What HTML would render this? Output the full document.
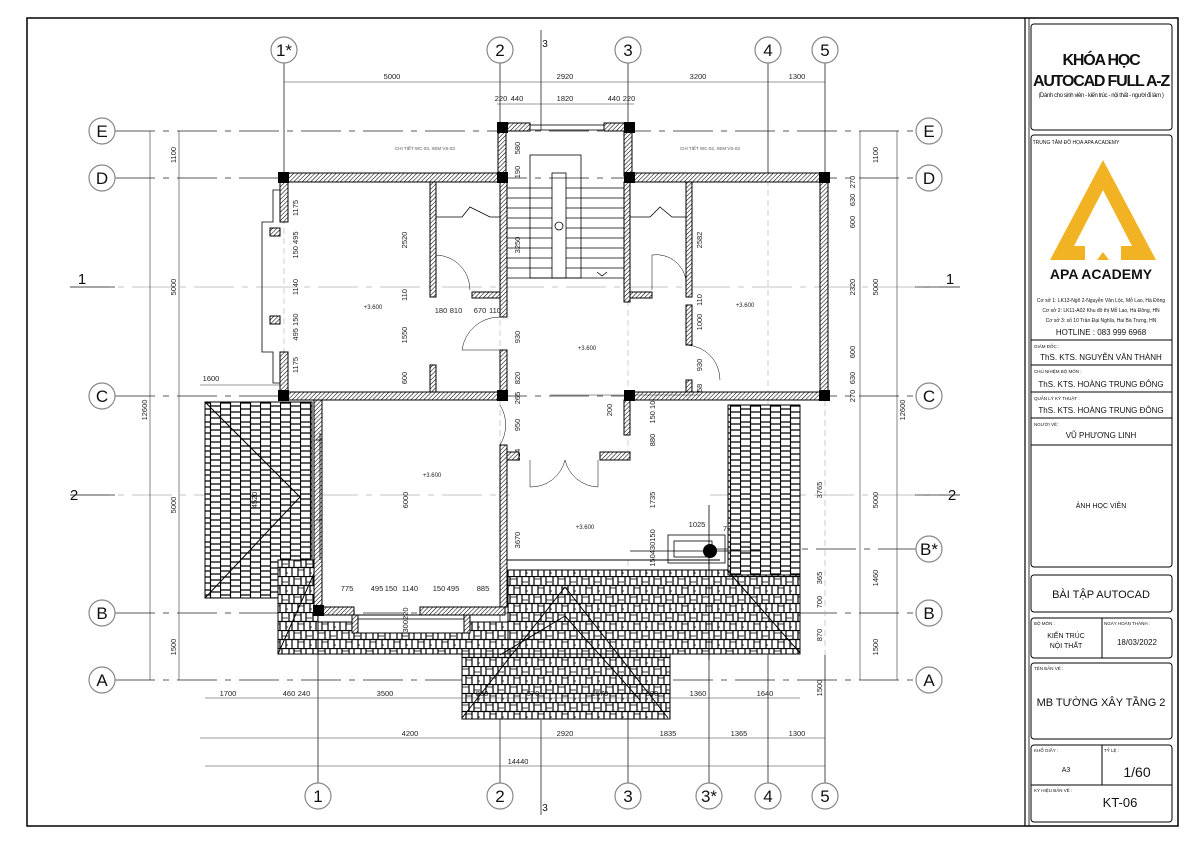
<!DOCTYPE html>
<html><head><meta charset="utf-8"><style>
html,body{margin:0;padding:0;background:#fff;}
svg{display:block;font-family:"Liberation Sans",sans-serif;}
</style></head><body>
<svg width="1191" height="842" viewBox="0 0 1191 842" xmlns="http://www.w3.org/2000/svg">
<defs>
<pattern id="h" width="3" height="3" patternUnits="userSpaceOnUse" patternTransform="rotate(45)">
<rect width="3" height="3" fill="#fff"/><line x1="0" y1="0" x2="0" y2="3" stroke="#000" stroke-width="1.1"/></pattern>
<pattern id="t" width="24" height="18" patternUnits="userSpaceOnUse">
<rect width="24" height="18" fill="#fff"/>
<path d="M0 0.5H24M0 9.5H24M1 0V9M6 0V9M13 0V9M18 0V9M4 9V18M10 9V18M16 9V18M22 9V18" stroke="#000" stroke-width="1.2" fill="none"/>
<path d="M6 3H13M18 6H24M10 12H16M22 15H24" stroke="#000" stroke-width="0.8"/>
</pattern>
<pattern id="tv" width="20" height="24" patternUnits="userSpaceOnUse">
<rect width="20" height="24" fill="#fff"/>
<path d="M0.5 0V24M10.5 0V24M0 1H10M0 7H10M0 14H10M0 19H10M10 4H20M10 10H20M10 16H20M10 22H20" stroke="#000" stroke-width="1.2" fill="none"/>
</pattern>
</defs>

<rect x="27" y="18" width="1151" height="808" fill="none" stroke="#000" stroke-width="1.5"/>
<line x1="1025" y1="18" x2="1025" y2="826" stroke="#000" stroke-width="1.2"/>
<line x1="1029" y1="18" x2="1029" y2="826" stroke="#000" stroke-width="0.8"/>

<g stroke="#222" stroke-width="0.8" fill="none">
<line x1="284" y1="63" x2="284" y2="178"/>
<line x1="500" y1="63" x2="500" y2="125"/>
<line x1="628" y1="63" x2="628" y2="125"/>
<line x1="768" y1="63" x2="768" y2="178"/>
<line x1="825" y1="63" x2="825" y2="178"/>
<line x1="318" y1="615" x2="318" y2="783"/>
<line x1="500" y1="615" x2="500" y2="783"/>
<line x1="628" y1="655" x2="628" y2="783"/>
<line x1="709" y1="530" x2="709" y2="783"/>
<line x1="768" y1="655" x2="768" y2="783"/>
<line x1="825" y1="655" x2="825" y2="783"/>
<line x1="541" y1="30" x2="541" y2="130"/>
<line x1="541" y1="720" x2="541" y2="815"/>
<g stroke-dasharray="40 8 6 8">
<line x1="115" y1="131" x2="916" y2="131"/>
<line x1="115" y1="178" x2="916" y2="178"/>
<line x1="115" y1="396" x2="916" y2="396"/>
<line x1="115" y1="613" x2="916" y2="613"/>
<line x1="115" y1="680" x2="916" y2="680"/>
<line x1="70" y1="287" x2="960" y2="287" stroke="#888" stroke-width="0.5"/>
<line x1="70" y1="495" x2="960" y2="495" stroke="#888" stroke-width="0.5"/>
<line x1="630" y1="549" x2="916" y2="549"/>
<line x1="70" y1="287" x2="115" y2="287" stroke-dasharray="none"/>
<line x1="915" y1="287" x2="960" y2="287" stroke-dasharray="none"/>
<line x1="70" y1="495" x2="115" y2="495" stroke-dasharray="none"/>
<line x1="915" y1="495" x2="960" y2="495" stroke-dasharray="none"/>
</g>
<g stroke="#999" stroke-width="0.5" stroke-dasharray="6 4">
<line x1="284" y1="178" x2="284" y2="400"/><line x1="500" y1="180" x2="500" y2="615"/>
<line x1="628" y1="180" x2="628" y2="655"/><line x1="768" y1="180" x2="768" y2="655"/>
<line x1="825" y1="180" x2="825" y2="655"/><line x1="318" y1="400" x2="318" y2="615"/>
</g>
</g>

<!-- roofs (tiles) -->
<g stroke="#000" stroke-width="1">
<rect x="205" y="402" width="107" height="196" fill="url(#tv)"/>
<rect x="278" y="560" width="40" height="94" fill="url(#t)"/>
<rect x="318" y="622" width="200" height="32" fill="url(#t)"/>
<rect x="508" y="570" width="292" height="84" fill="url(#t)"/>
<rect x="728" y="405" width="72" height="170" fill="url(#tv)"/>
<rect x="462" y="654" width="208" height="65" fill="url(#t)"/>
<line x1="205" y1="402" x2="300" y2="497"/><line x1="300" y1="497" x2="205" y2="598"/>
<line x1="320" y1="560" x2="278" y2="654"/>
<line x1="462" y1="718" x2="565" y2="587"/><line x1="565" y1="587" x2="668" y2="718"/>
<line x1="500" y1="655" x2="565" y2="616"/><line x1="565" y1="616" x2="640" y2="700"/>
<line x1="727" y1="570" x2="800" y2="653"/>
<rect x="352" y="615" width="118" height="18" fill="#fff"/>
<rect x="510" y="460" width="200" height="100" fill="#fff" stroke="none"/>
<line x1="507" y1="560" x2="720" y2="560"/>
</g>

<g fill="#fff" stroke="#888" stroke-width="1.2">
<circle cx="284" cy="50" r="13"/><circle cx="500" cy="50" r="13"/><circle cx="628" cy="50" r="13"/><circle cx="768" cy="50" r="13"/><circle cx="825" cy="50" r="13"/>
<circle cx="318" cy="796" r="13"/><circle cx="500" cy="796" r="13"/><circle cx="628" cy="796" r="13"/><circle cx="709" cy="796" r="13"/><circle cx="768" cy="796" r="13"/><circle cx="825" cy="796" r="13"/>
<circle cx="102" cy="131" r="13"/><circle cx="102" cy="178" r="13"/><circle cx="102" cy="396" r="13"/><circle cx="102" cy="613" r="13"/><circle cx="102" cy="680" r="13"/>
<circle cx="929" cy="131" r="13"/><circle cx="929" cy="178" r="13"/><circle cx="929" cy="396" r="13"/><circle cx="929" cy="549" r="13"/><circle cx="929" cy="613" r="13"/><circle cx="929" cy="680" r="13"/>
</g>
<g font-size="17" text-anchor="middle" fill="#111">
<text x="284" y="56">1*</text><text x="500" y="56">2</text><text x="628" y="56">3</text><text x="768" y="56">4</text><text x="825" y="56">5</text>
<text x="318" y="802">1</text><text x="500" y="802">2</text><text x="628" y="802">3</text><text x="709" y="802">3*</text><text x="768" y="802">4</text><text x="825" y="802">5</text>
<text x="102" y="137">E</text><text x="102" y="184">D</text><text x="102" y="402">C</text><text x="102" y="619">B</text><text x="102" y="686">A</text>
<text x="929" y="137">E</text><text x="929" y="184">D</text><text x="929" y="402">C</text><text x="929" y="555">B*</text><text x="929" y="619">B</text><text x="929" y="686">A</text>
<text x="82" y="284" font-size="15">1</text><text x="950" y="284" font-size="15">1</text>
<text x="74" y="500" font-size="15">2</text><text x="952" y="500" font-size="15">2</text>
<text x="545" y="47" font-size="10">3</text><text x="545" y="811" font-size="10">3</text>
</g>

<g stroke="#333" stroke-width="0.6" fill="none">
<line x1="284" y1="82" x2="825" y2="82"/>
<line x1="497" y1="104" x2="634" y2="104"/>
<line x1="205" y1="698" x2="800" y2="698"/>
<line x1="200" y1="738" x2="825" y2="738"/>
<line x1="205" y1="766" x2="825" y2="766"/>
<line x1="150" y1="131" x2="150" y2="680"/>
<line x1="179" y1="131" x2="179" y2="680"/>
<line x1="860" y1="131" x2="860" y2="680"/>
<line x1="897" y1="131" x2="897" y2="680"/>
<line x1="200" y1="385" x2="280" y2="385"/>
</g>
<g font-size="7.5" fill="#222" text-anchor="middle">
<text x="392" y="79">5000</text><text x="565" y="79">2920</text><text x="698" y="79">3200</text><text x="797" y="79">1300</text>
<text x="501" y="101">220</text><text x="517" y="101">440</text><text x="565" y="101">1820</text><text x="614" y="101">440</text><text x="629" y="101">220</text>
<text x="228" y="696">1700</text><text x="289" y="696">460</text><text x="304" y="696">240</text><text x="385" y="696">3500</text><text x="482" y="696">800</text><text x="533" y="696">570</text><text x="600" y="696">1570</text><text x="652" y="696">800</text><text x="698" y="696">1360</text><text x="765" y="696">1640</text>
<text x="410" y="736">4200</text><text x="565" y="736">2920</text><text x="668" y="736">1835</text><text x="739" y="736">1365</text><text x="797" y="736">1300</text>
<text x="518" y="764">14440</text>
<text x="211" y="381">1600</text>
<text x="347" y="591">775</text><text x="377" y="591">495</text><text x="391" y="591">150</text><text x="410" y="591">1140</text><text x="439" y="591">150</text><text x="453" y="591">495</text><text x="483" y="591">885</text>
<text x="441" y="313">180</text><text x="456" y="313">810</text><text x="480" y="313">670</text><text x="495" y="313">110</text>
<text x="697" y="527">1025</text><text x="727" y="531">70</text>
<text x="373" y="309" font-size="6">+3.600</text><text x="432" y="477" font-size="6">+3.600</text><text x="587" y="350" font-size="6">+3.600</text><text x="585" y="529" font-size="6">+3.600</text><text x="745" y="307" font-size="6">+3.600</text>
</g>
<g font-size="7.5" fill="#222" text-anchor="middle">
<text transform="translate(176,155) rotate(-90)">1100</text>
<text transform="translate(176,287) rotate(-90)">5000</text>
<text transform="translate(176,505) rotate(-90)">5000</text>
<text transform="translate(176,647) rotate(-90)">1500</text>
<text transform="translate(147,410) rotate(-90)">12600</text>
<text transform="translate(878,155) rotate(-90)">1100</text>
<text transform="translate(878,287) rotate(-90)">5000</text>
<text transform="translate(878,500) rotate(-90)">5000</text>
<text transform="translate(878,647) rotate(-90)">1500</text>
<text transform="translate(905,410) rotate(-90)">12600</text>
<text transform="translate(298,208) rotate(-90)">1175</text>
<text transform="translate(298,245) rotate(-90)">150 495</text>
<text transform="translate(298,287) rotate(-90)">1140</text>
<text transform="translate(298,327) rotate(-90)">495 150</text>
<text transform="translate(298,365) rotate(-90)">1175</text>
<text transform="translate(407,240) rotate(-90)">2520</text>
<text transform="translate(407,295) rotate(-90)">110</text>
<text transform="translate(407,335) rotate(-90)">1550</text>
<text transform="translate(407,378) rotate(-90)">600</text>
<text transform="translate(520,148) rotate(-90)">580</text>
<text transform="translate(520,172) rotate(-90)">190</text>
<text transform="translate(520,245) rotate(-90)">3250</text>
<text transform="translate(520,337) rotate(-90)">930</text>
<text transform="translate(520,378) rotate(-90)">820</text>
<text transform="translate(520,398) rotate(-90)">265</text>
<text transform="translate(520,425) rotate(-90)">950</text>
<text transform="translate(520,455) rotate(-90)">314</text>
<text transform="translate(520,540) rotate(-90)">3670</text>
<text transform="translate(408,500) rotate(-90)">6000</text>
<text transform="translate(257,500) rotate(-90)">4520</text>
<text transform="translate(408,620) rotate(-90)">300220</text>
<text transform="translate(612,410) rotate(-90)">200</text>
<text transform="translate(655,410) rotate(-90)">150 100</text>
<text transform="translate(655,440) rotate(-90)">880</text>
<text transform="translate(655,500) rotate(-90)">1735</text>
<text transform="translate(655,548) rotate(-90)">150430150</text>
<text transform="translate(702,240) rotate(-90)">2582</text>
<text transform="translate(702,300) rotate(-90)">110</text>
<text transform="translate(702,322) rotate(-90)">1000</text>
<text transform="translate(702,365) rotate(-90)">930</text>
<text transform="translate(702,388) rotate(-90)">58</text>
<text transform="translate(855,182) rotate(-90)">270</text>
<text transform="translate(855,200) rotate(-90)">630</text>
<text transform="translate(855,222) rotate(-90)">600</text>
<text transform="translate(855,287) rotate(-90)">2320</text>
<text transform="translate(855,352) rotate(-90)">600</text>
<text transform="translate(855,378) rotate(-90)">630</text>
<text transform="translate(855,396) rotate(-90)">270</text>
<text transform="translate(822,490) rotate(-90)">3765</text>
<text transform="translate(822,578) rotate(-90)">365</text>
<text transform="translate(822,602) rotate(-90)">700</text>
<text transform="translate(822,635) rotate(-90)">870</text>
<text transform="translate(822,688) rotate(-90)">1500</text>
<text transform="translate(878,578) rotate(-90)">1460</text>
</g>

<g fill="url(#h)" stroke="#000" stroke-width="1">
<rect x="280" y="173" width="218" height="9"/>
<rect x="630" y="173" width="192" height="9"/>
<rect x="280" y="182" width="8" height="40"/>
<rect x="280" y="352" width="8" height="40"/>
<rect x="270" y="228" width="10" height="8"/><rect x="270" y="316" width="10" height="8"/>
<rect x="280" y="392" width="220" height="8"/>
<rect x="630" y="392" width="192" height="8"/>
<rect x="820" y="182" width="8" height="210"/>
<rect x="430" y="182" width="6" height="115"/>
<rect x="430" y="365" width="6" height="27"/>
<rect x="472" y="292" width="28" height="6"/>
<rect x="624" y="292" width="28" height="6"/>
<rect x="686" y="182" width="6" height="115"/>
<rect x="686" y="305" width="6" height="40"/>
<rect x="686" y="380" width="6" height="12"/>
<rect x="498" y="123" width="32" height="8"/><rect x="604" y="123" width="26" height="8"/>
<rect x="498" y="131" width="8" height="45"/><rect x="624" y="131" width="8" height="45"/>
<rect x="500" y="182" width="7" height="135"/>
<rect x="624" y="182" width="6" height="120"/>
<rect x="500" y="350" width="7" height="42"/>
<rect x="314" y="400" width="8" height="207"/>
<rect x="314" y="607" width="40" height="8"/><rect x="420" y="607" width="85" height="8"/>
<rect x="500" y="445" width="7" height="162"/>
<rect x="507" y="452" width="12" height="8"/><rect x="600" y="452" width="30" height="8"/>
<rect x="624" y="400" width="6" height="35"/>
<rect x="352" y="615" width="6" height="18"/><rect x="464" y="615" width="6" height="18"/>
</g>
<g fill="#000">
<rect x="278" y="172" width="11" height="11"/><rect x="497" y="172" width="11" height="11"/><rect x="624" y="172" width="11" height="11"/><rect x="819" y="172" width="11" height="11"/>
<rect x="278" y="390" width="11" height="11"/><rect x="497" y="390" width="11" height="11"/><rect x="624" y="390" width="11" height="11"/><rect x="819" y="390" width="11" height="11"/>
<rect x="497" y="122" width="11" height="11"/><rect x="624" y="122" width="11" height="11"/>
<rect x="313" y="605" width="11" height="11"/>
<circle cx="710" cy="551" r="7"/>
</g>
<g stroke="#000" stroke-width="0.8" fill="none">
<path d="M280 190 H273 V222 H262 V352 H273 V383 H280"/>
<rect x="530" y="125" width="74" height="5"/>
<rect x="530" y="155" width="51" height="123"/>
<rect x="552" y="173" width="14" height="105"/>
<path d="M507 188H552M507 198H552M507 208H552M507 218H552M507 228H552M507 238H552M507 248H552M507 258H552M507 268H552M507 278H624M566 188H624M566 198H624M566 208H624M566 218H624M566 228H624M566 238H624M566 248H624M566 258H624M566 268H624"/>
<circle cx="559" cy="226" r="4"/>
<path d="M597 272 L602 276 L607 272"/>
<path d="M436 217 H462 L470 207 L490 217 H500"/>
<path d="M630 217 H650 L660 207 L672 217 H686"/>
<path d="M436 290 V255 A35 35 0 0 1 470 290" stroke-width="0.5"/>
<path d="M652 290 V255 A30 30 0 0 1 686 280" stroke-width="0.5"/>
<path d="M500 317 A38 38 0 0 0 462 350 H500" stroke-width="0.5"/>
<path d="M500 405 A38 38 0 0 1 500 445" stroke-width="0.5"/>
<path d="M686 345 A35 35 0 0 1 720 380" stroke-width="0.5"/>
<path d="M530 460 V487 A35 35 0 0 0 565 460 A35 35 0 0 0 598 487 V460" stroke-width="0.5"/>
<rect x="668" y="535" width="57" height="28"/>
<rect x="674" y="541" width="38" height="16"/>
<line x1="709" y1="505" x2="709" y2="660"/>
<line x1="630" y1="551" x2="760" y2="551"/>
<path d="M320 433 V560 M316 440 H322 M316 520 H322"/>
<rect x="358" y="615" width="106" height="4"/>
<line x1="550" y1="395" x2="700" y2="395" stroke-width="0.4"/>
</g>
<g font-size="4.5" fill="#555"><text x="395" y="150">CHI TIẾT WC-03, XEM VS-03</text><text x="680" y="150">CHI TIẾT WC-02, XEM VS-03</text></g>

<g fill="none" stroke="#000" stroke-width="1">
<rect x="1031" y="24" width="141" height="106" rx="3"/>
<rect x="1031" y="135" width="141" height="432" rx="3"/>
<line x1="1031" y1="340" x2="1172" y2="340"/>
<line x1="1031" y1="365" x2="1172" y2="365"/>
<line x1="1031" y1="392" x2="1172" y2="392"/>
<line x1="1031" y1="418" x2="1172" y2="418"/>
<line x1="1031" y1="445" x2="1172" y2="445"/>
<rect x="1031" y="575" width="141" height="37" rx="3"/>
<rect x="1031" y="618" width="141" height="40" rx="3"/>
<line x1="1102" y1="618" x2="1102" y2="658"/>
<rect x="1031" y="663" width="141" height="76" rx="3"/>
<rect x="1031" y="745" width="141" height="77" rx="3"/>
<line x1="1031" y1="785" x2="1172" y2="785"/>
<line x1="1102" y1="745" x2="1102" y2="785"/>
</g>
<g text-anchor="middle" fill="#111">
<text x="1101" y="65" font-size="16" font-weight="bold" letter-spacing="-1.2">KHÓA HỌC</text>
<text x="1101" y="86" font-size="16" font-weight="bold" letter-spacing="-1.2">AUTOCAD FULL A-Z</text>
<text x="1101" y="97" font-size="6" letter-spacing="-0.4">(Dành cho sinh viên - kiến trúc - nội thất - người đi làm )</text>
<text x="1076" y="144" font-size="5">TRUNG TÂM ĐỒ HỌA APA ACADEMY</text>
<text x="1101" y="279" font-size="14" font-weight="bold">APA ACADEMY</text>
<text x="1101" y="302" font-size="5">Cơ sở 1: LK13-Ngõ 2-Nguyễn Văn Lộc, Mỗ Lao, Hà Đông</text>
<text x="1101" y="312" font-size="5">Cơ sở 2: LK11-A02 Khu đô thị Mỗ Lao, Hà Đông, HN</text>
<text x="1101" y="322" font-size="5">Cơ sở 3: số 10 Trần Đại Nghĩa, Hai Bà Trưng, HN</text>
<text x="1101" y="335" font-size="8">HOTLINE : 083 999 6968</text>
<text x="1101" y="360" font-size="8">ThS. KTS. NGUYỄN VĂN THÀNH</text>
<text x="1101" y="387" font-size="8">ThS. KTS. HOÀNG TRUNG ĐÔNG</text>
<text x="1101" y="413" font-size="8">ThS. KTS. HOÀNG TRUNG ĐÔNG</text>
<text x="1101" y="438" font-size="8">VŨ PHƯƠNG LINH</text>
<text x="1101" y="508" font-size="7">ẢNH HỌC VIÊN</text>
<text x="1101" y="598" font-size="11">BÀI TẬP AUTOCAD</text>
<text x="1066" y="638" font-size="7">KIẾN TRÚC</text>
<text x="1066" y="648" font-size="7">NỘI THẤT</text>
<text x="1137" y="645" font-size="8">18/03/2022</text>
<text x="1101" y="706" font-size="11">MB TƯỜNG XÂY TẦNG 2</text>
<text x="1066" y="772" font-size="7">A3</text>
<text x="1137" y="777" font-size="14">1/60</text>
<text x="1120" y="807" font-size="13">KT-06</text>
</g>
<g font-size="4.5" fill="#111">
<text x="1034" y="348">GIÁM ĐỐC :</text><text x="1034" y="373">CHỦ NHIỆM BỘ MÔN :</text><text x="1034" y="400">QUẢN LÝ KỸ THUẬT :</text><text x="1034" y="426">NGƯỜI VẼ :</text>
<text x="1034" y="625">BỘ MÔN :</text><text x="1104" y="625">NGÀY HOÀN THÀNH :</text><text x="1034" y="670">TÊN BẢN VẼ :</text>
<text x="1034" y="752">KHỔ GIẤY :</text><text x="1104" y="752">TỶ LỆ :</text><text x="1034" y="792">KÝ HIỆU BẢN VẼ :</text>
</g>
<path d="M1103 160 L1050 260 L1085 260 L1085 246 L1074 246 L1103 190 L1132 246 L1121 246 L1121 260 L1156 260 Z" fill="#F1B324"/>
<path d="M1097 260 L1103 252 L1109 260 Z" fill="#F1B324"/>
</svg>
</body></html>
